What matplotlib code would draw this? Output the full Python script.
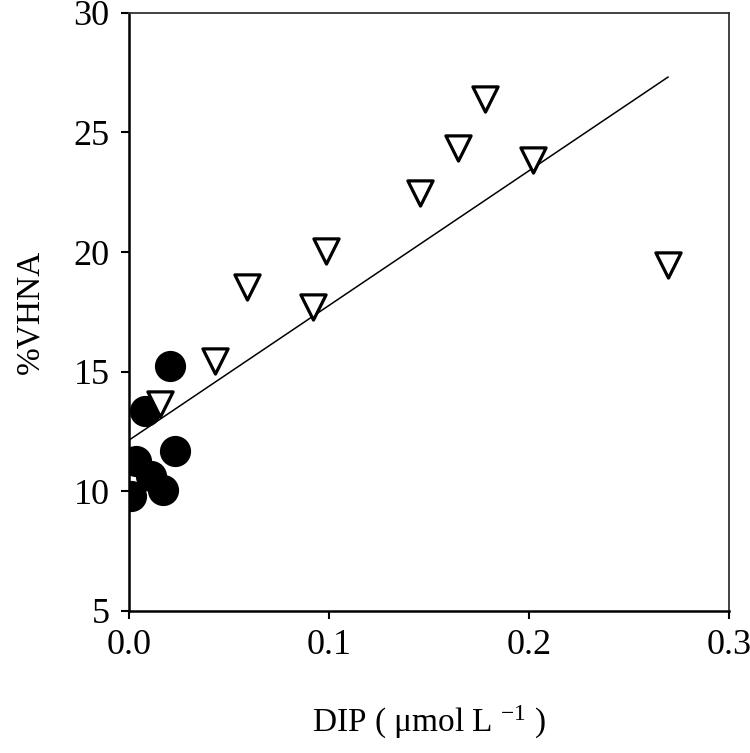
import numpy as np
import matplotlib
matplotlib.use('Agg')
import matplotlib.pyplot as plt

plt.rcParams['font.family'] = ['Liberation Serif', 'DejaVu Serif']
plt.rcParams['mathtext.fontset'] = 'custom'
plt.rcParams['mathtext.rm'] = 'Liberation Serif'
plt.rcParams['mathtext.it'] = 'Liberation Serif:italic'

# filled circles
dip_circle = [0.0205, 0.008, 0.023, 0.0035, 0.011, 0.017, 0.001]
vhna_circle = [15.23, 13.35, 11.68, 11.26, 10.63, 10.05, 9.80]

# open down triangles
dip_tri = [0.0155, 0.043, 0.059, 0.092, 0.0985, 0.1455, 0.1645, 0.178, 0.202, 0.2695]
vhna_tri = [13.64, 15.43, 18.56, 17.70, 20.05, 22.45, 24.35, 26.40, 23.85, 19.45]

# regression line
fit_intercept = 12.14
fit_slope = 56.3

fig = plt.figure(figsize=(7.5, 7.53), dpi=100)
ax = fig.add_axes([0.172, 0.1886, 0.8, 0.7944])

x_line = np.array([0.0, max(dip_tri)])
ax.plot(x_line, fit_intercept + fit_slope * x_line, color='black', lw=1.1, zorder=2)

ax.scatter(dip_circle, vhna_circle, s=460, c='black', marker='o', zorder=3)
ax.scatter(dip_tri, vhna_tri, s=330, facecolors='white', edgecolors='black',
           marker='v', linewidths=2.3, zorder=4)

ax.set_xlim(0, 0.3)
ax.set_ylim(5, 30)
ax.set_xticks([0.0, 0.1, 0.2, 0.3])
ax.set_xticklabels(['0.0', '0.1', '0.2', '0.3'])
ax.set_yticks([5, 10, 15, 20, 25, 30])

for side in ['left', 'bottom']:
    ax.spines[side].set_linewidth(1.8)
for side in ['top', 'right']:
    ax.spines[side].set_linewidth(1.3)
    ax.spines[side].set_color('#333333')

ax.tick_params(axis='both', direction='out', length=6, width=1.5,
               labelsize=26, colors='black')
ax.tick_params(axis='y', pad=8)
ax.tick_params(axis='x', pad=7)

ax.set_xlabel(r'DIP ( μmol L $^{\mathrm{-1}}$ )', fontsize=24, labelpad=30)
ax.set_ylabel('%VHNA', fontsize=24, labelpad=20)

fig.savefig('out.png', dpi=100)
